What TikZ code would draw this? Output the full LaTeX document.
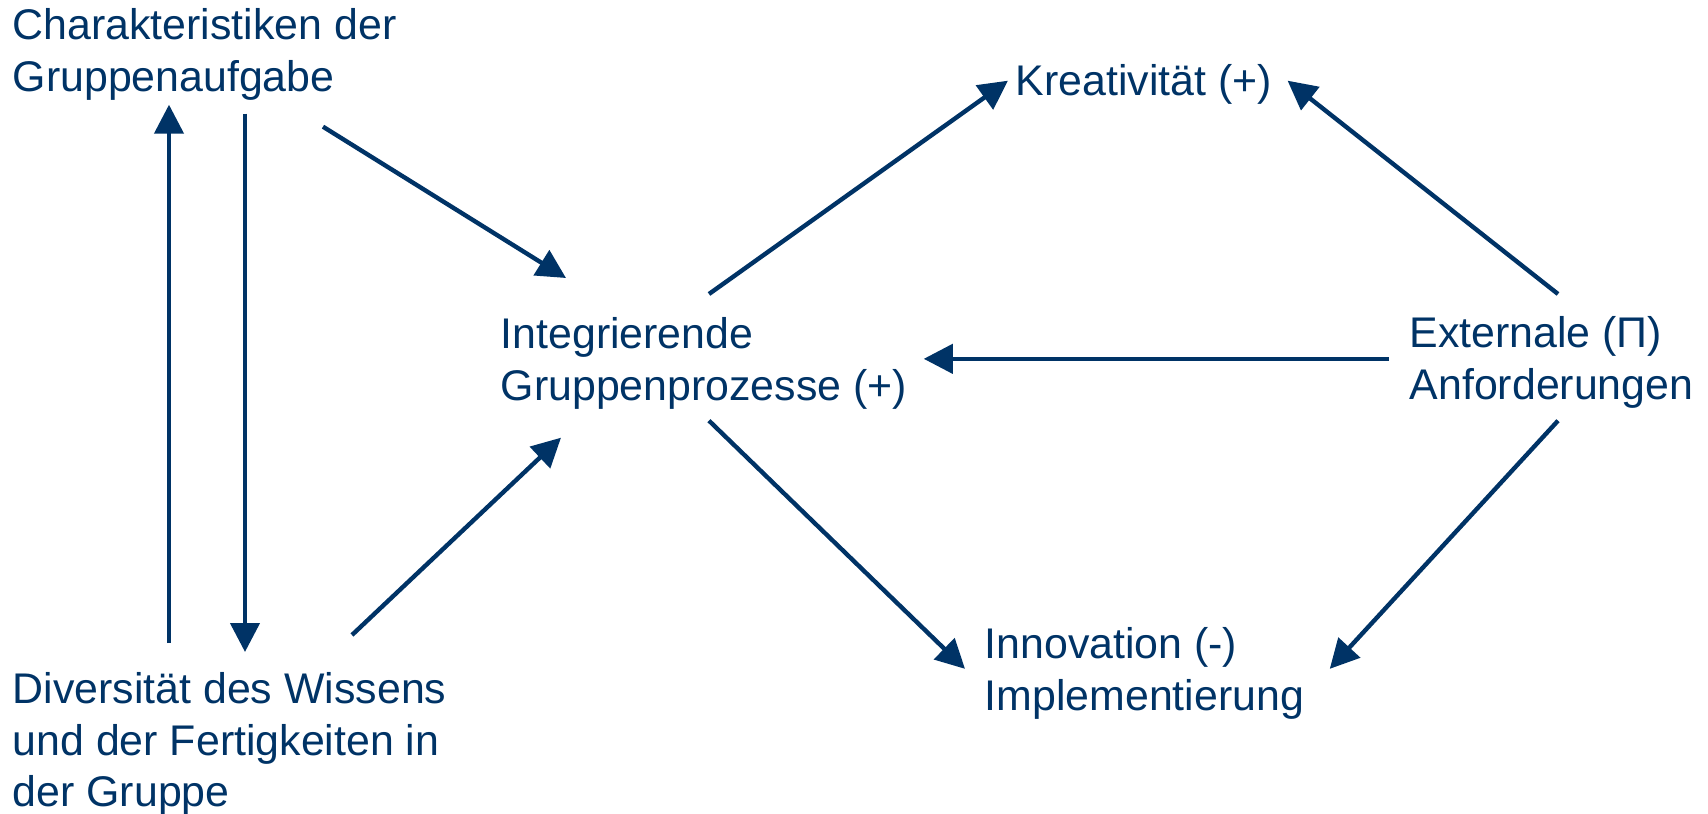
\documentclass[tikz,border=0pt]{standalone}
\usepackage{fontspec}
\setmainfont{Liberation Sans}
\usetikzlibrary{arrows.meta}
\definecolor{navy}{RGB}{0,51,102}
\tikzset{
    label/.style = {anchor=north west, inner sep=0pt, align=left, text=navy, font=\fontsize{12.2}{14.6}\selectfont},
    link/.style = {navy, line width=1.25pt, -{Triangle[length=0.29cm,width=0.29cm]}}
}
\begin{document}
\begin{tikzpicture}
            \useasboundingbox (0,0) rectangle (17.08,-8.14);
            %Text Labels
            %placement is manual here (1px = 0.01cm, top left is origin)
            \node [label] (task) at (0.12,-0.08) {Charakteristiken der\\Gruppenaufgabe};
            \node [label] (div) at (0.12,-6.72) {Diversität des Wissens\\und der Fertigkeiten in\\der Gruppe};
            \node [label] (proc) at (5.00,-3.17) {Integrierende\\Gruppenprozesse (+)};
            \node [label] (crea) at (10.15,-0.64) {Kreativität (+)};
            \node [label] (ext) at (14.09,-3.16) {Externale (Π)\\Anforderungen};
            \node [label] (inno) at (9.84,-6.27) {Innovation (-)\\Implementierung};

            %links on the left side
            \draw[link] ([shift={(1.57,0.29)}]div.north west) -- ([shift={(1.57,-0.04)}]task.south west);
            \draw[link] ([shift={(2.33,-0.13)}]task.south west) -- ([shift={(2.33,0.20)}]div.north west);
            \draw[link] ([shift={(3.11,-0.26)}]task.south west) -- ([shift={(0.66,0.39)}]proc.north west);
            \draw[link] ([shift={(3.40,0.37)}]div.north west) -- ([shift={(0.61,-0.28)}]proc.south west);

            %links to the outcomes
            \draw[link] ([shift={(2.09,0.23)}]proc.north west) -- ([shift={(-0.07,0.04)}]crea.west);
            \draw[link] ([shift={(2.09,-0.11)}]proc.south west) -- ([shift={(-0.19,0.045)}]inno.west);
            \draw[link] ([shift={(1.49,0.22)}]ext.north west) -- ([shift={(0.15,0.04)}]crea.east);
            \draw[link] ([shift={(-0.20,0.035)}]ext.west) -- ([shift={(0.16,0.045)}]proc.east);
            \draw[link] ([shift={(1.49,-0.12)}]ext.south west) -- ([shift={(0.25,0.045)}]inno.east);
\end{tikzpicture}
\end{document}
